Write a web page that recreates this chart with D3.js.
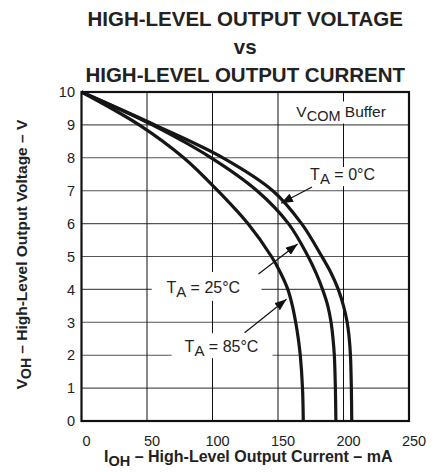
<!DOCTYPE html>
<html>
<head>
<meta charset="utf-8">
<script src="https://cdn.jsdelivr.net/npm/d3@7"></script>
<style>
  body { margin: 0; background: #fff; }
  text { font-family: "Liberation Sans", Arial, Helvetica, sans-serif; fill: #222; }
</style>
</head>
<body>
<div id="chart"></div>
<script>
// values
const voltage = [10, 9, 8, 7, 6, 5, 4.5, 4, 3.5, 3, 2.5, 2, 1, 0];
const current0C = [0, 56, 108, 146, 168, 183.5, 190.5, 196, 200, 202.8, 204.4, 205.3, 206, 206.3];
const current25C = [0, 54, 99, 134, 158, 173, 179, 184, 188, 190.5, 192, 193, 193.8, 194.2];
const current85C = [0, 44, 78, 104, 127, 145, 152, 157.5, 161, 163.5, 165.5, 167, 168.7, 169.3];
const xTicks = [0, 50, 100, 150, 200, 250];
const yTicks = [0, 1, 2, 3, 4, 5, 6, 7, 8, 9, 10];
const titleLines = ["HIGH-LEVEL OUTPUT VOLTAGE", "vs", "HIGH-LEVEL OUTPUT CURRENT"];
const tempLabels = ["0°C", "25°C", "85°C"];

const drawGraph = () => {
  const fullWidth = 440;
  const fullHeight = 472;
  const margin = { top: 92, right: 31, bottom: 51, left: 81.5 };
  const width = fullWidth - margin.left - margin.right;
  const height = fullHeight - margin.top - margin.bottom;

  const x = d3.scaleLinear().domain([0, 250]).range([0, width]);
  const y = d3.scaleLinear().domain([0, 10]).range([height, 0]);

  const svg = d3
    .select("#chart")
    .append("svg")
    .attr("width", fullWidth)
    .attr("height", fullHeight);

  svg
    .append("defs")
    .append("marker")
    .attr("id", "arrow")
    .attr("markerUnits", "userSpaceOnUse")
    .attr("viewBox", "0 0 12 9")
    .attr("refX", 12)
    .attr("refY", 4.5)
    .attr("markerWidth", 12)
    .attr("markerHeight", 9)
    .attr("orient", "auto")
    .append("path")
    .attr("d", "M0,0L12,4.5L0,9Z")
    .style("fill", "#111");

  // title
  svg
    .append("g")
    .selectAll("text")
    .data(titleLines)
    .enter()
    .append("text")
    .attr("x", margin.left + width / 2)
    .attr("y", (d, i) => [26, 53.5, 81.5][i])
    .attr("text-anchor", "middle")
    .style("font-weight", "bold")
    .style("font-size", "20.5px")
    .text(d => d);

  const g = svg
    .append("g")
    .attr("transform", `translate(${margin.left}, ${margin.top})`);

  // grid
  g.append("g")
    .attr("class", "hgrid")
    .selectAll("line")
    .data(yTicks.slice(1, -1))
    .enter()
    .append("line")
    .attr("x1", 0)
    .attr("x2", width)
    .attr("y1", d => y(d))
    .attr("y2", d => y(d))
    .style("stroke", "#555")
    .style("stroke-width", 1.1);

  g.append("g")
    .attr("class", "vgrid")
    .selectAll("line")
    .data(xTicks.slice(1, -1))
    .enter()
    .append("line")
    .attr("y1", 0)
    .attr("y2", height)
    .attr("x1", d => x(d))
    .attr("x2", d => x(d))
    .style("stroke", "#111")
    .style("stroke-width", 1);

  // tick labels
  g.append("g")
    .selectAll("text")
    .data(yTicks)
    .enter()
    .append("text")
    .attr("x", -6.5)
    .attr("y", d => y(d))
    .attr("dy", "0.36em")
    .attr("text-anchor", "end")
    .style("font-size", "14.5px")
    .text(d => d);

  g.append("g")
    .selectAll("text")
    .data(xTicks)
    .enter()
    .append("text")
    .attr("x", d => x(d) + 5)
    .attr("y", height + 24.7)
    .attr("text-anchor", "middle")
    .style("font-size", "14.5px")
    .text(d => d);

  // white patches behind the labels
  const patches = [
    [153.5, 248, 9.71, 9.04],
    [172.5, 222.8, 7.72, 7.14],
    [53.6, 137.4, 4.53, 3.65],
    [68.8, 145.8, 2.67, 1.91]
  ];
  g.append("g")
    .selectAll("rect")
    .data(patches)
    .enter()
    .append("rect")
    .attr("x", d => x(d[0]))
    .attr("y", d => y(d[2]))
    .attr("width", d => x(d[1]) - x(d[0]))
    .attr("height", d => y(d[3]) - y(d[2]))
    .style("fill", "#fff");

  // curves
  const line = d3
    .line()
    .x(d => x(d[0]))
    .y(d => y(d[1]))
    .curve(d3.curveCatmullRom.alpha(0.5));

  [current0C, current25C, current85C].forEach(series => {
    g.append("path")
      .datum(series.map((c, i) => [c, voltage[i]]))
      .attr("d", line)
      .style("fill", "none")
      .style("stroke", "#161616")
      .style("stroke-width", 3.2)
      .style("stroke-linejoin", "round");
  });

  // frame
  g.append("rect")
    .attr("width", width)
    .attr("height", height)
    .style("fill", "none")
    .style("stroke", "#111")
    .style("stroke-width", 2.2);

  // VCOM Buffer note
  const note = g
    .append("text")
    .attr("x", x(164))
    .attr("y", y(9.24))
    .style("font-size", "15.5px");
  note.append("tspan").text("V");
  note.append("tspan").attr("dy", 3.5).style("font-size", "14.5px").text("COM");
  note.append("tspan").attr("dy", -3.5).text(" Buffer");

  // temperature labels with arrows
  const annotations = [
    { text: [174.5, 7.33], from: [176, 7.11], to: [152.3, 6.62] },
    { text: [64.8, 3.88], from: [135.1, 4.47], to: [165, 5.38] },
    { text: [78.7, 2.11], from: [124.5, 2.68], to: [156.5, 3.7] }
  ];

  annotations.forEach((a, i) => {
    const t = g
      .append("text")
      .attr("x", x(a.text[0]))
      .attr("y", y(a.text[1]))
      .style("font-size", "16px");
    t.append("tspan").text("T");
    t.append("tspan").attr("dy", 4).style("font-size", "15px").text("A");
    t.append("tspan").attr("dy", -4).text(" = " + tempLabels[i]);

    g.append("line")
      .attr("x1", x(a.from[0]))
      .attr("y1", y(a.from[1]))
      .attr("x2", x(a.to[0]))
      .attr("y2", y(a.to[1]))
      .style("stroke", "#111")
      .style("stroke-width", 1.2)
      .attr("marker-end", "url(#arrow)");
  });

  // axis titles
  const xTitle = svg
    .append("text")
    .attr("x", margin.left + width / 2 + 3)
    .attr("y", 461.5)
    .attr("text-anchor", "middle")
    .style("font-weight", "bold")
    .style("font-size", "16px");
  xTitle.append("tspan").text("I");
  xTitle.append("tspan").attr("dy", 4).style("font-size", "14.5px").text("OH");
  xTitle.append("tspan").attr("dy", -4).text(" – High-Level Output Current – mA");

  const yTitle = svg
    .append("text")
    .attr("transform", `translate(27, ${margin.top + height / 2 - 2}) rotate(-90)`)
    .attr("text-anchor", "middle")
    .style("font-weight", "bold")
    .style("font-size", "15.5px");
  yTitle.append("tspan").text("V");
  yTitle.append("tspan").attr("dy", 4).style("font-size", "14px").text("OH");
  yTitle.append("tspan").attr("dy", -4).text(" – High-Level Output Voltage – V");
};

drawGraph();
</script>
</body>
</html>
